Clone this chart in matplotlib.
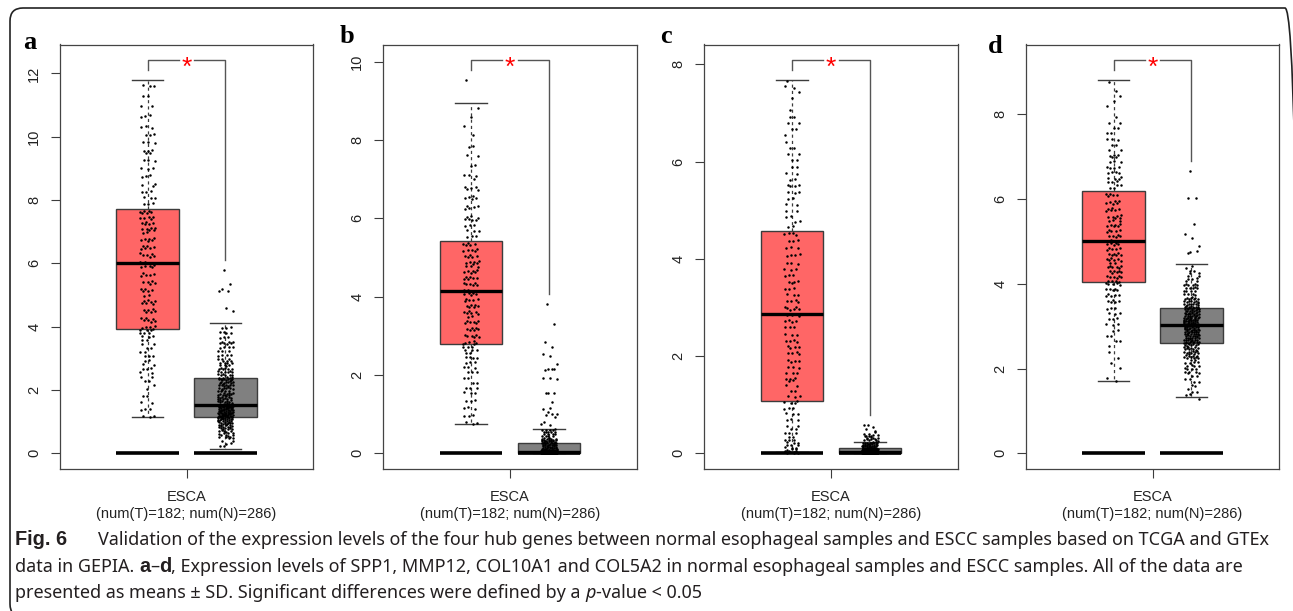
import numpy as np
import matplotlib.pyplot as plt
from matplotlib.patches import FancyBboxPatch
from matplotlib.transforms import IdentityTransform

# box stats: whisker low, q1, median, q3, whisker high
a_tumor_box = [1.15, 3.92, 6.00, 7.72, 11.78]
a_normal_box = [0.15, 1.14, 1.52, 2.37, 4.10]
b_tumor_box = [0.75, 2.80, 4.15, 5.42, 8.95]
b_normal_box = [0.00, 0.00, 0.04, 0.27, 0.62]
c_tumor_box = [0.03, 1.07, 2.87, 4.58, 7.67]
c_normal_box = [0.00, 0.00, 0.02, 0.10, 0.23]
d_tumor_box = [1.70, 4.04, 5.02, 6.20, 8.80]
d_normal_box = [1.33, 2.60, 3.03, 3.44, 4.46]

# dots, estimated as (low, high, count) bands; single dots have low == high
a_tumor_dots = [(1.15, 2.0, 10), (2.0, 2.5, 6), (2.5, 3.0, 9), (3.0, 3.5, 9), (3.5, 3.92, 11),
                (3.92, 5.0, 27), (5.0, 6.0, 20), (6.0, 7.0, 23), (7.0, 7.72, 22),
                (7.72, 8.5, 11), (8.5, 9.5, 12), (9.5, 10.5, 12), (10.5, 11.78, 10)]
a_normal_dots = [(0.15, 0.5, 8), (0.5, 0.75, 16), (0.75, 1.0, 24), (1.0, 1.14, 23),
                 (1.14, 1.52, 72), (1.52, 2.0, 40), (2.0, 2.37, 31), (2.37, 2.75, 24),
                 (2.75, 3.0, 13), (3.0, 3.5, 15), (3.5, 4.1, 13),
                 (4.50, 4.50, 1), (4.58, 4.58, 1), (5.12, 5.12, 2), (5.18, 5.18, 1),
                 (5.34, 5.34, 1), (5.78, 5.78, 1)]
b_tumor_dots = [(0.75, 1.5, 12), (1.5, 2.0, 10), (2.0, 2.5, 13), (2.5, 2.8, 10),
                (2.8, 3.5, 24), (3.5, 4.15, 22), (4.15, 4.8, 24), (4.8, 5.42, 21),
                (5.42, 6.0, 13), (6.0, 7.0, 19), (7.0, 8.0, 9), (8.0, 8.95, 4), (9.52, 9.52, 1)]
b_normal_dots = [(0.0, 0.03, 143), (0.03, 0.1, 40), (0.1, 0.27, 32), (0.27, 0.4, 25), (0.4, 0.62, 18),
                 (0.70, 0.80, 3), (0.90, 1.05, 5), (1.10, 1.22, 2), (1.31, 1.31, 1), (1.53, 1.55, 3),
                 (1.90, 1.92, 3), (2.13, 2.17, 4), (2.29, 2.29, 1), (2.48, 2.55, 2), (2.71, 2.71, 1),
                 (2.84, 2.84, 1), (3.29, 3.29, 1), (3.82, 3.82, 1)]
c_tumor_dots = [(0.0, 0.1, 12), (0.1, 0.3, 12), (0.3, 0.6, 9), (0.6, 1.07, 12),
                (1.07, 1.5, 10), (1.5, 2.0, 13), (2.0, 2.5, 15), (2.5, 3.0, 15), (3.0, 3.5, 13),
                (3.5, 4.0, 12), (4.0, 4.58, 14), (4.58, 5.0, 8), (5.0, 5.5, 9), (5.5, 6.0, 8),
                (6.0, 6.5, 7), (6.5, 7.0, 7), (7.0, 7.5, 3), (7.5, 7.67, 3)]
c_normal_dots = [(0.0, 0.03, 150), (0.03, 0.1, 70), (0.1, 0.23, 40),
                 (0.24, 0.35, 14), (0.35, 0.45, 7), (0.45, 0.60, 5)]
d_tumor_dots = [(1.7, 2.0, 2), (2.0, 2.5, 4), (2.5, 3.0, 7), (3.0, 3.5, 12), (3.5, 4.04, 20),
                (4.04, 4.5, 24), (4.5, 5.0, 22), (5.0, 5.5, 22), (5.5, 6.2, 23),
                (6.2, 6.5, 10), (6.5, 7.0, 14), (7.0, 7.5, 10), (7.5, 8.0, 7), (8.0, 8.5, 3), (8.5, 8.8, 2)]
d_normal_dots = [(1.27, 1.27, 1), (1.33, 1.6, 6), (1.6, 1.9, 9), (1.9, 2.2, 15), (2.2, 2.6, 40),
                 (2.6, 2.8, 30), (2.8, 3.03, 40), (3.03, 3.2, 36), (3.2, 3.44, 37),
                 (3.44, 3.7, 30), (3.7, 4.0, 18), (4.0, 4.25, 9), (4.25, 4.46, 5),
                 (4.72, 4.78, 3), (4.90, 4.90, 1), (5.09, 5.09, 1), (5.18, 5.18, 1),
                 (5.42, 5.42, 1), (6.03, 6.03, 2), (6.65, 6.65, 1)]

panel_letters = ["a", "b", "c", "d"]
y_ticks = [[0, 2, 4, 6, 8, 10, 12], [0, 2, 4, 6, 8, 10], [0, 2, 4, 6, 8], [0, 2, 4, 6, 8]]
group_label = "ESCA"
count_label = "(num(T)=182; num(N)=286)"

panels = [
    (a_tumor_box, a_normal_box, a_tumor_dots, a_normal_dots),
    (b_tumor_box, b_normal_box, b_tumor_dots, b_normal_dots),
    (c_tumor_box, c_normal_box, c_tumor_dots, c_normal_dots),
    (d_tumor_box, d_normal_box, d_tumor_dots, d_normal_dots),
]

W, H = 1293, 611
tumor_color = "#FF6666"
normal_color = "#808080"
line_gray = "#3c3c3c"
sans = ["Liberation Sans", "DejaVu Sans"]

plt.rcParams["font.family"] = sans

fig = plt.figure(figsize=(W / 100, H / 100), dpi=100)

# rounded frame around the whole figure, in pixels (right and bottom run off the page)
fig.patches.append(FancyBboxPatch((10, -6), 1298 - 10, (H - 8) + 6,
                                  boxstyle="round,pad=0,rounding_size=13",
                                  transform=IdentityTransform(), fill=False,
                                  edgecolor="#222222", linewidth=1.2))


def jitter_points(bands, pos, start):
    # quasi-random spread of dots inside each band (R2 sequence), jitter +-0.1
    xs, ys = [], []
    k = start
    for lo, hi, n in bands:
        for _ in range(n):
            k += 1
            u = (0.5 + k * 0.7548776662) % 1
            v = (0.5 + k * 0.5698402910) % 1
            ys.append(lo + u * (hi - lo))
            xs.append(pos + (v - 0.5) * 0.2)
    return np.array(xs), np.array(ys)


panel_left = [60, 383, 704, 1026]
panel_right = [313, 637, 958, 1279]
top_px, bottom_px = 44.5, 469
letter_pos = [(23, 49), (340, 43), (660, 43), (988, 53)]

for i, (tbox, nbox, tdots, ndots) in enumerate(panels):
    l, r = panel_left[i], panel_right[i]
    ax = fig.add_axes([l / W, 1 - bottom_px / H, (r - l) / W, (bottom_px - top_px) / H])

    stats = [dict(whislo=b[0], q1=b[1], med=b[2], q3=b[3], whishi=b[4], fliers=[])
             for b in (tbox, nbox)]
    res = ax.bxp(stats, positions=[1, 2], widths=0.8, capwidths=0.4, patch_artist=True,
                 showfliers=False, manage_ticks=False,
                 boxprops=dict(edgecolor=line_gray, linewidth=1.0),
                 medianprops=dict(color="black", linewidth=2.4, solid_capstyle="butt"),
                 whiskerprops=dict(color=line_gray, linewidth=0.9, linestyle=(0, (2.5, 2.5))),
                 capprops=dict(color=line_gray, linewidth=1.0))
    res["boxes"][0].set_facecolor(tumor_color)
    res["boxes"][1].set_facecolor(normal_color)

    ax.hlines([0, 0], [0.6, 1.6], [1.4, 2.4], color="black", linewidth=2.6, zorder=3)

    tx, ty = jitter_points(tdots, 1, 0)
    nx, ny = jitter_points(ndots, 2, 500)
    ax.scatter(tx, ty, s=3.2, c="black", linewidths=0, zorder=4)
    ax.scatter(nx, ny, s=3.2, c="black", linewidths=0, zorder=4)

    # significance bracket, placed above each group's highest dot
    y1 = max(ty.max(), tbox[4])
    y2 = max(ny.max(), nbox[4])
    pad = 0.027 * max(y1, y2)
    left_end = y1 + pad
    ytop = left_end + pad
    right_end = y2 + pad
    ax.plot([1, 1, 1.4], [left_end, ytop, ytop], color="#555555", linewidth=1.0)
    ax.plot([1.6, 2, 2], [ytop, ytop, right_end], color="#555555", linewidth=1.0)
    ax.annotate("*", (1.5, ytop), xytext=(0, -15), textcoords="offset pixels",
                ha="center", va="baseline", color="red", fontsize=19)

    ext = 0.04 * ytop
    ax.set_ylim(-ext, ytop + ext)
    ax.set_xlim(1.5 - 1.625, 1.5 + 1.625)

    ax.set_yticks(y_ticks[i])
    ax.set_yticklabels([str(t) for t in y_ticks[i]], rotation=90, va="center", ha="right")
    ax.set_xticks([1.5])
    ax.set_xticklabels([""])
    ax.tick_params(axis="both", length=6.5, width=0.8, color=line_gray,
                   labelsize=10.5, pad=7, labelcolor="#222222")
    for s in ax.spines.values():
        s.set_color("#444444")
        s.set_linewidth(0.9)

    cx = (l + r) / 2
    fig.text(cx / W, 1 - 501 / H, group_label, ha="center", va="baseline", fontsize=10.5, color="#222222")
    fig.text(cx / W, 1 - 518 / H, count_label, ha="center", va="baseline", fontsize=10.5, color="#222222")

    lx, ly = letter_pos[i]
    fig.text(lx / W, 1 - ly / H, panel_letters[i], ha="left", va="baseline",
             fontsize=19, fontweight="bold", family=["Liberation Serif", "DejaVu Serif"])

# caption
cap_font = ["Noto Sans", "Liberation Sans", "DejaVu Sans"]
cap_bold_font = ["Liberation Sans", "DejaVu Sans"]
cap_color = "#231F20"
cap_lines = [
    [("Fig. 6", "bold", 31),
     ("Validation of the expression levels of the four hub genes between normal esophageal samples "
      "and ESCC samples based on TCGA and GTEx", "normal", 0)],
    [("data in GEPIA.", "normal", None), ("a", "bold", 0), ("\u2013", "normal", 0), ("d", "bold", 0),
     (", Expression levels of SPP1, MMP12, COL10A1 and COL5A2 in normal esophageal samples and ESCC "
      "samples. All of the data are", "normal", 0)],
    [("presented as means \u00b1 SD. Significant differences were defined by a", "normal", None),
     ("p", "italic", 0), ("-value < 0.05", "normal", 0)],
]
cap_base = [545, 572, 598]
renderer = fig.canvas.get_renderer()


def put_run(x, y, txt, style, size):
    kw = dict(fontsize=size, family=cap_font, color=cap_color, ha="left", va="baseline",
              fontstretch="condensed")
    if style == "bold":
        kw["fontweight"] = "bold"
        kw["fontstretch"] = "normal"
        kw["family"] = cap_bold_font
        kw["fontsize"] = size * 1.1
    elif style == "italic":
        kw["fontstyle"] = "italic"
    t = fig.text(x / W, 1 - y / H, txt, **kw)
    return t, t.get_window_extent(renderer).width


def line_width(runs, size, draw=False, y=0):
    t1, w1 = put_run(0, 0, "n n", "normal", size)
    t2, w2 = put_run(0, 0, "nn", "normal", size)
    t1.remove()
    t2.remove()
    space = w1 - w2
    x = 15
    for txt, style, gap in runs:
        t, w = put_run(x, y, txt, style, size)
        if not draw:
            t.remove()
        x += w + (space if gap is None else gap)
    return x


size0 = 12
w0 = line_width(cap_lines[0], size0) - 15
cap_size = size0 * (1270 - 15 - 31) / (w0 - 31)
for runs, yb in zip(cap_lines, cap_base):
    line_width(runs, cap_size, draw=True, y=yb)

fig.savefig("out.png", dpi=100)
